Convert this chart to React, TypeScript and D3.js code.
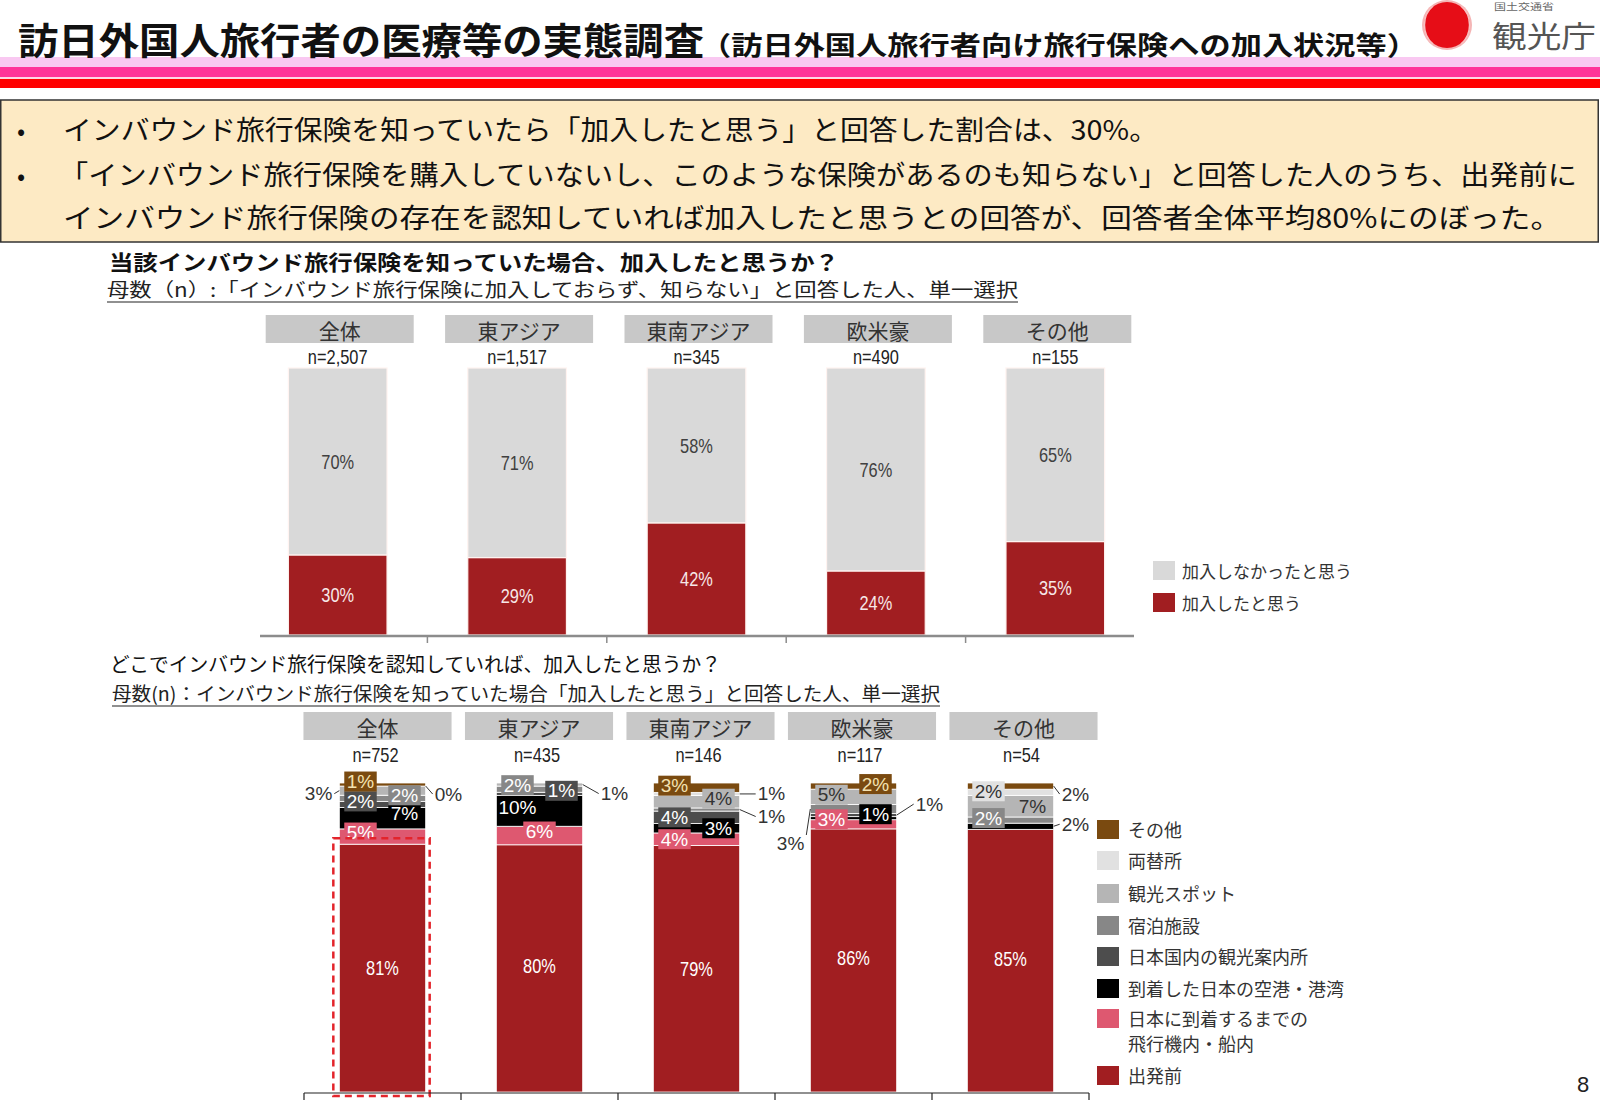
import React from 'react';
import * as d3 from 'd3';

// regions (both charts)
const regions = ['全体', '東アジア', '東南アジア', '欧米豪', 'その他'];

// upper chart: 当該インバウンド旅行保険を知っていた場合、加入したと思うか？
const topN = ['n=2,507', 'n=1,517', 'n=345', 'n=490', 'n=155'];
const joinYes = [30, 29, 42, 24, 35];
const joinNo = [70, 71, 58, 76, 65];

// lower chart: どこで認知していれば加入したと思うか (values in %, bottom to top)
const bottomN = ['n=752', 'n=435', 'n=146', 'n=117', 'n=54'];
const placeKeys = ['departure', 'inFlight', 'airport', 'touristInfo', 'lodging', 'spot', 'exchange', 'otherPlace'];
const placeNames = ['出発前', '日本に到着するまでの\n飛行機内・船内', '到着した日本の空港・港湾', '日本国内の観光案内所', '宿泊施設', '観光スポット', '両替所', 'その他'];
const departure = [81, 80, 79, 86, 85];
const inFlight = [5, 6, 4, 3, 0];
const airport = [7, 10, 3, 1, 2];
const touristInfo = [2, 1, 4, 1, 0];
const lodging = [2, 2, 1, 3, 2];
const spot = [3, 1, 4, 5, 7];
const exchange = [0, 0, 1, 0, 2];
const otherPlace = [1, 0, 3, 2, 2];

const placeColors = ['#a11e21', '#de5870', '#000000', '#4d4d4d', '#878787', '#b5b5b5', '#e1e1e1', '#7a4a10'];
const placeText = ['#ffffff', '#ffffff', '#ffffff', '#ffffff', '#ffffff', '#333333', '#333333', '#f4e2b0'];

// where each label of the lower chart sits: [position, dx, dy] per place (bottom to top)
const labelLayout: Record<string, [string, number, number][]> = {
  '全体': [['C', 0, 0], ['L', 0, -4], ['R', 0, -5], ['L', 0, -3], ['R', 0, -3], ['outL', -6, 3], ['outR', 8, 8], ['L', 0, -3]],
  '東アジア': [['C', 0, -3], ['C', 0, -4], ['plainL', 0, -3], ['R', 0, -3], ['L', 0, -4], ['outR', 17, 9], ['none', 0, 0], ['none', 0, 0]],
  '東南アジア': [['C', 0, 0], ['L', 0, 0], ['R', 0, 0], ['L', 0, 0], ['outR', 17, 7], ['R', 0, -3], ['outR', 17, 0], ['L', 0, -2]],
  '欧米豪': [['C', 0, -3], ['L', 0, -5], ['R', 0, -4], ['outR', 18, -11], ['outL', -5, 34], ['L', 0, -2], ['none', 0, 0], ['R', 0, -2]],
  'その他': [['C', 0, -2], ['none', 0, 0], ['outR', 7, -2], ['none', 0, 0], ['L', 0, -2], ['plainR', 0, 0], ['L', 0, -1], ['outR', 7, 8]],
};

const JP = "'Noto Sans CJK JP', 'Noto Sans', sans-serif";
const SANS = "'Liberation Sans', Arial, sans-serif";

// condensed text, like the narrow numerals of the original slide
const Narrow = ({ x, y, children, fill = '#222', size = 20, anchor = 'middle' }: any) => (
  <text transform={`translate(${x},${y}) scale(0.82,1)`} textAnchor={anchor} dominantBaseline="central" fontFamily={SANS} fontSize={size} fill={fill}>
    {children}
  </text>
);

const App = () => {
  const W = 1600;
  const H = 1108;

  // ---- upper chart scales
  const xTop = d3.scaleBand().domain(regions).range([248, 1145]).paddingInner(0.45).paddingOuter(0.225);
  const yTop = d3.scaleLinear().domain([0, 100]).range([635, 368]);
  const topRows = regions.map((r, i) => ({ region: r, yes: joinYes[i], no: joinNo[i] }));
  const topStack = d3.stack<any>().keys(['yes', 'no'])(topRows);
  const topColors = ['#a11e21', '#d9d9d9'];

  // ---- lower chart scales
  const xBot = d3.scaleBand().domain(regions).range([304, 1089]).paddingInner(0.45).paddingOuter(0.225);
  const yBot = d3.scaleLinear().domain([0, 1]).range([1092, 783]);
  const series = [departure, inFlight, airport, touristInfo, lodging, spot, exchange, otherPlace];
  const botRows = regions.map((r, i) => {
    const row: any = { region: r };
    placeKeys.forEach((k, j) => { row[k] = series[j][i]; });
    return row;
  });
  const botStack = d3.stack<any>().keys(placeKeys).offset(d3.stackOffsetExpand)(botRows);
  const headBot = d3.scaleBand().domain(regions).range([297, 1104]).paddingInner(0.083).paddingOuter(0.04);

  const bw = xBot.bandwidth();
  const labelWidth = (s: string, fs: number) => (s.replace('%', '').length * 0.556 + 0.889) * fs + 5;

  const botLabels: React.ReactNode[] = [];
  botStack.forEach((layer, j) => {
    layer.forEach((d, i) => {
      const region = regions[i];
      const [pos, dx, dy] = labelLayout[region][j];
      if (pos === 'none') return;
      const value = series[j][i];
      const text = `${value}%`;
      const x0 = xBot(region)!;
      const cx = x0 + bw / 2;
      const cy = (yBot(d[0]) + yBot(d[1])) / 2;
      const fs = 19;
      const key = `${region}-${j}`;
      if (pos === 'C') {
        botLabels.push(
          j === 0 ? (
            <Narrow key={key} x={cx} y={cy + dy} size={20} fill="#ffffff">{text}</Narrow>
          ) : (
            <g key={key}>
              <rect x={cx - labelWidth(text, fs) / 2} y={cy + dy - 10} width={labelWidth(text, fs)} height={20} fill={placeColors[j]} />
              <text x={cx} y={cy + dy} textAnchor="middle" dominantBaseline="central" fontFamily={SANS} fontSize={fs} fill={placeText[j]}>{text}</text>
            </g>
          )
        );
      } else if (pos === 'L' || pos === 'R') {
        const bx = pos === 'L' ? cx - 22 : cx + 22;
        const lw = labelWidth(text, fs);
        botLabels.push(
          <g key={key}>
            <rect x={bx - lw / 2} y={cy + dy - 10} width={lw} height={20} fill={placeColors[j]} />
            <text x={bx} y={cy + dy} textAnchor="middle" dominantBaseline="central" fontFamily={SANS} fontSize={fs} fill={placeText[j]}>{text}</text>
          </g>
        );
      } else if (pos === 'plainL' || pos === 'plainR') {
        const bx = pos === 'plainL' ? cx - 22 : cx + 22;
        botLabels.push(
          <text key={key} x={bx} y={cy + dy} textAnchor="middle" dominantBaseline="central" fontFamily={SANS} fontSize={fs} fill={placeText[j]}>{text}</text>
        );
      } else {
        const right = pos === 'outR';
        const ax = right ? x0 + bw : x0;
        const lx = ax + dx;
        const ly = cy + dy;
        const endY = Math.abs(dy) > 15 ? ly - 8 * Math.sign(dy) : ly;
        botLabels.push(
          <g key={key}>
            <line x1={ax} y1={cy} x2={right ? lx - 1 : lx + 1} y2={endY} stroke="#333" strokeWidth={1} />
            <text x={right ? lx + 1 : lx - 1} y={ly} textAnchor={right ? 'start' : 'end'} dominantBaseline="central" fontFamily={SANS} fontSize={fs} fill="#333">{text}</text>
          </g>
        );
      }
    });
  });

  const first = botStack[0][0];
  const legendTop = [
    { name: '加入しなかったと思う', color: topColors[1] },
    { name: '加入したと思う', color: topColors[0] },
  ];
  const legendBot = placeNames.map((n, j) => ({ name: n, color: placeColors[j] })).reverse();
  const legendBotY = [829, 860, 893, 925, 956, 988, 1018, 1075];

  return (
    <svg width={W} height={H} style={{ position: 'absolute', left: 0, top: 0, background: '#fff' }} fontFamily={JP}>
      <rect width={W} height={H} fill="#ffffff" />
      {/* header stripes */}
      <rect x={0} y={57} width={W} height={10} fill="#f9c8f1" />
      <rect x={0} y={67} width={W} height={10} fill="#ff3399" />
      <rect x={0} y={77} width={W} height={2} fill="#ffd5e5" />
      <rect x={0} y={79} width={W} height={9} fill="#ff0000" />
      <text x={18} y={55} fontSize={37} fontWeight="bold" fill="#111" textLength={686} lengthAdjust="spacingAndGlyphs">訪日外国人旅行者の医療等の実態調査</text>
      <text x={700} y={55} fontSize={26} fontWeight="bold" fill="#111" textLength={718} lengthAdjust="spacingAndGlyphs">（訪日外国人旅行者向け旅行保険への加入状況等）</text>
      {/* logo */}
      <g transform="translate(1447,25)">
        <circle r={25} fill="#f4b4b4" />
        <circle r={23} fill="#e60d17" />
        <path d="M -14,-19 A 22,24 0 0 0 -14,19" fill="none" stroke="#f8c0c0" strokeWidth={1.5} />
        <path d="M 14,-19 A 22,24 0 0 1 14,19" fill="none" stroke="#f8c0c0" strokeWidth={1.5} />
      </g>
      <text x={1494} y={10} fontSize={9} fill="#666" textLength={60} lengthAdjust="spacingAndGlyphs">国土交通省</text>
      <text x={1492} y={47} fontSize={30} fill="#555" textLength={104} lengthAdjust="spacingAndGlyphs">観光庁</text>

      {/* summary box */}
      <rect x={0.75} y={100} width={1597.5} height={142} fill="#fdeac4" stroke="#333" strokeWidth={1.5} />
      <text x={17} y={140} fontSize={24} fill="#111">•</text>
      <text x={63} y={140} fontSize={27} fill="#111" textLength={1095} lengthAdjust="spacingAndGlyphs">インバウンド旅行保険を知っていたら「加入したと思う」と回答した割合は、30%。</text>
      <text x={17} y={185} fontSize={24} fill="#111">•</text>
      <text x={59} y={185} fontSize={27} fill="#111" textLength={1518} lengthAdjust="spacingAndGlyphs">「インバウンド旅行保険を購入していないし、このような保険があるのも知らない」と回答した人のうち、出発前に</text>
      <text x={63} y={228} fontSize={27} fill="#111" textLength={1498} lengthAdjust="spacingAndGlyphs">インバウンド旅行保険の存在を認知していれば加入したと思うとの回答が、回答者全体平均80%にのぼった。</text>

      {/* upper chart titles */}
      <text x={109} y={270} fontSize={21} fontWeight="bold" fill="#111" textLength={730} lengthAdjust="spacingAndGlyphs">当該インバウンド旅行保険を知っていた場合、加入したと思うか？</text>
      <text x={107} y={297} fontSize={19} fill="#222" textLength={911} lengthAdjust="spacingAndGlyphs">母数（n）:「インバウンド旅行保険に加入しておらず、知らない」と回答した人、単一選択</text>
      <line x1={107} x2={1018} y1={302} y2={302} stroke="#222" strokeWidth={1.2} />

      {regions.map((r, i) => {
        const cx = xTop(r)! + xTop.bandwidth() / 2 + 2;
        return (
          <g key={`th-${r}`}>
            <rect x={cx - 74} y={315} width={148} height={28} fill="#c8c8c8" />
            <text x={cx} y={330} textAnchor="middle" dominantBaseline="central" fontSize={21} fill="#333">{r}</text>
            <Narrow x={cx - 2} y={357} size={20}>{topN[i]}</Narrow>
          </g>
        );
      })}

      {topStack.map((layer, k) => (
        <g key={`tl-${k}`}>
          {layer.map((d) => (
            <rect key={d.data.region} x={xTop(d.data.region)} y={yTop(d[1])} width={xTop.bandwidth()} height={yTop(d[0]) - yTop(d[1])} fill={topColors[k]} stroke="#fff3f0" strokeWidth={1.2} />
          ))}
          {layer.map((d) => (
            <Narrow key={`t-${d.data.region}`} x={xTop(d.data.region)! + xTop.bandwidth() / 2} y={(yTop(d[0]) + yTop(d[1])) / 2} size={20} fill={k === 0 ? '#f7e8e8' : '#404040'}>
              {`${d[1] - d[0]}%`}
            </Narrow>
          ))}
        </g>
      ))}
      <line x1={260} x2={1134} y1={yTop(0) + 1} y2={yTop(0) + 1} stroke="#8c8c8c" strokeWidth={2.5} />
      {regions.slice(1).map((r) => (
        <line key={`tt-${r}`} x1={xTop(r)! - (xTop.step() - xTop.bandwidth()) / 2} x2={xTop(r)! - (xTop.step() - xTop.bandwidth()) / 2} y1={yTop(0) + 1} y2={yTop(0) + 8} stroke="#8c8c8c" strokeWidth={1.5} />
      ))}
      {legendTop.map((l, i) => (
        <g key={`lt-${i}`}>
          <rect x={1153} y={570 + i * 32 - 9} width={22} height={19} fill={l.color} />
          <text x={1182} y={570 + i * 32} dominantBaseline="central" fontSize={17} fill="#333">{l.name}</text>
        </g>
      ))}

      {/* lower chart titles */}
      <text x={110} y={672} fontSize={20} fill="#111" textLength={611} lengthAdjust="spacingAndGlyphs">どこでインバウンド旅行保険を認知していれば、加入したと思うか？</text>
      <text x={112} y={701} fontSize={19} fill="#222" textLength={828} lengthAdjust="spacingAndGlyphs">母数(n)：インバウンド旅行保険を知っていた場合「加入したと思う」と回答した人、単一選択</text>
      <line x1={112} x2={940} y1={706} y2={706} stroke="#222" strokeWidth={1.2} />

      {regions.map((r, i) => {
        const hx = headBot(r)!;
        const cx = hx + headBot.bandwidth() / 2;
        return (
          <g key={`bh-${r}`}>
            <rect x={hx} y={712} width={headBot.bandwidth()} height={28} fill="#c8c8c8" />
            <text x={cx} y={727} textAnchor="middle" dominantBaseline="central" fontSize={21} fill="#333">{r}</text>
            <Narrow x={cx - 2} y={755} size={20}>{bottomN[i]}</Narrow>
          </g>
        );
      })}

      {botStack.map((layer, j) => (
        <g key={`bl-${j}`}>
          {layer.map((d) => (
            <rect key={d.data.region} x={xBot(d.data.region)} y={yBot(d[1])} width={bw} height={Math.max(0, yBot(d[0]) - yBot(d[1]))} fill={placeColors[j]} stroke="#ffffff" strokeWidth={0.8} />
          ))}
        </g>
      ))}
      {botLabels}

      {/* highlight around 全体 / 出発前 */}
      <rect x={xBot(regions[0])! - 6} y={yBot(first[1]) - 6} width={bw + 10} height={yBot(first[0]) - yBot(first[1]) + 10} fill="none" stroke="#e3242b" strokeWidth={2.5} strokeDasharray="7,5" />

      <line x1={xBot.range()[0]} x2={xBot.range()[1]} y1={yBot(0) + 1} y2={yBot(0) + 1} stroke="#222" strokeWidth={1.2} />
      {[...regions.map((r) => xBot(r)! - (xBot.step() - bw) / 2), xBot.range()[1]].map((x, i) => (
        <line key={`bt-${i}`} x1={x} x2={x} y1={yBot(0) + 1} y2={yBot(0) + 8} stroke="#222" strokeWidth={1.2} />
      ))}

      {legendBot.map((l, i) => (
        <g key={`lb-${i}`}>
          <rect x={1097} y={legendBotY[i] - 9} width={22} height={19} fill={l.color} />
          {l.name.split('\n').map((line, k) => (
            <text key={k} x={1128} y={legendBotY[i] + k * 25} dominantBaseline="central" fontSize={18} fill="#333">{line}</text>
          ))}
        </g>
      ))}

      <text x={1577} y={1092} fontFamily={SANS} fontSize={22} fill="#222">8</text>
    </svg>
  );
};

export default App;
